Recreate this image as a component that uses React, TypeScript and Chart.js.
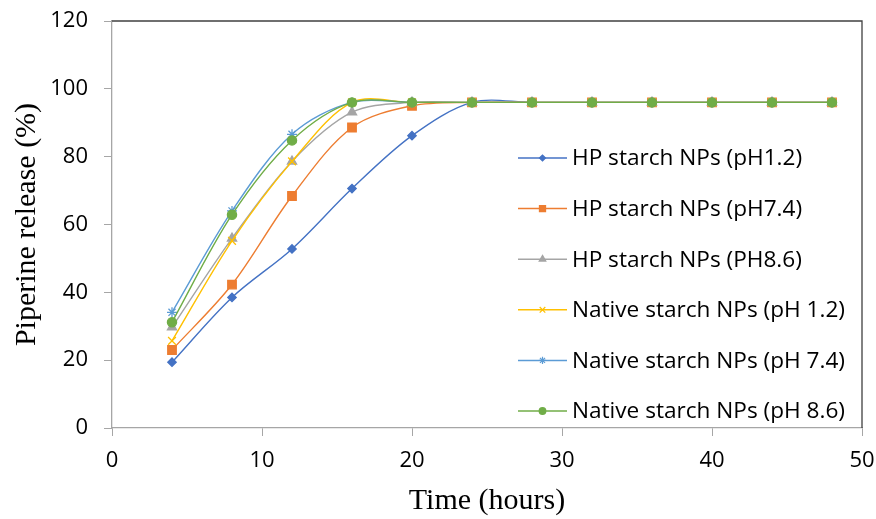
import React, { useEffect, useRef } from "react";
import { Chart, registerables } from "chart.js";
import { drawPoint } from "chart.js/helpers";

Chart.register(...registerables);

const hours = [4, 8, 12, 16, 20, 24, 28, 32, 36, 40, 44, 48];
const hpPH12 = [19.4, 38.5, 52.8, 70.6, 86.2, 96, 96, 96, 96, 96, 96, 96];
const hpPH74 = [23.0, 42.3, 68.4, 88.6, 95.0, 96, 96, 96, 96, 96, 96, 96];
const hpPH86 = [29.7, 55.9, 78.6, 93.1, 96, 96, 96, 96, 96, 96, 96, 96];
const nativePH12 = [25.7, 55.2, 78.6, 96, 96, 96, 96, 96, 96, 96, 96, 96];
const nativePH74 = [34.1, 64.0, 86.6, 96, 96, 96, 96, 96, 96, 96, 96, 96];
const nativePH86 = [31.2, 62.9, 84.8, 96, 96, 96, 96, 96, 96, 96, 96, 96];

const seriesLabels = [
  "HP starch NPs (pH1.2)",
  "HP starch NPs (pH7.4)",
  "HP starch NPs (PH8.6)",
  "Native starch NPs (pH 1.2)",
  "Native starch NPs (pH 7.4)",
  "Native starch NPs (pH 8.6)",
];
const seriesValues = [hpPH12, hpPH74, hpPH86, nativePH12, nativePH74, nativePH86];
const seriesColors = ["#4472C4", "#ED7D31", "#A5A5A5", "#FFC000", "#5B9BD5", "#70AD47"];
const seriesMarkers = ["rectRot", "rect", "triangle", "crossRot", "star", "circle"];
const markerRadius = [4.2, 6.0, 5.3, 5.5, 5, 4.6];

const xTicks = [0, 10, 20, 30, 40, 50];
const yTicks = [0, 20, 40, 60, 80, 100, 120];

const FONT = "'Open Sans', 'Liberation Sans', sans-serif";
const SERIF = "'Liberation Serif', 'DejaVu Serif', serif";

const frameAndLegend = {
  id: "frameAndLegend",
  afterDraw(chart: any) {
    const { ctx, chartArea } = chart;
    const { left, right, top, bottom } = chartArea;
    ctx.save();
    ctx.strokeStyle = "#404040";
    ctx.lineWidth = 1.3;
    ctx.beginPath();
    ctx.moveTo(left, top);
    ctx.lineTo(right, top);
    ctx.lineTo(right, bottom);
    ctx.stroke();

    const lineStart = right - 344;
    const lineEnd = lineStart + 49;
    const textX = lineEnd + 5;
    const rowTop = top + 137;
    const rowGap = 50.6;
    ctx.font = `22.6px ${FONT}`;
    ctx.textBaseline = "middle";
    ctx.textAlign = "left";
    chart.data.datasets.forEach((ds: any, i: number) => {
      const y = rowTop + i * rowGap;
      ctx.strokeStyle = ds.borderColor;
      ctx.lineWidth = 1.5;
      ctx.beginPath();
      ctx.moveTo(lineStart, y);
      ctx.lineTo(lineEnd, y);
      ctx.stroke();
      ctx.fillStyle = ds.pointBackgroundColor;
      ctx.strokeStyle = ds.pointBorderColor;
      ctx.lineWidth = 1.2;
      drawPoint(ctx, { pointStyle: ds.pointStyle, radius: ds.pointRadius * 0.72, rotation: 0, borderWidth: 1.2 }, (lineStart + lineEnd) / 2, y);
      ctx.fillStyle = "#000";
      ctx.fillText(ds.label, textX, y + 1);
    });
    ctx.restore();
  },
};

export default function App() {
  const canvasRef = useRef<HTMLCanvasElement | null>(null);

  useEffect(() => {
    document.body.style.margin = "0";
    const canvas = canvasRef.current;
    if (!canvas) return;
    const datasets = seriesValues.map((vals, i) => ({
      label: seriesLabels[i],
      data: hours.map((h, j) => ({ x: h, y: vals[j] })),
      borderColor: seriesColors[i],
      backgroundColor: seriesColors[i],
      pointBackgroundColor: seriesColors[i],
      pointBorderColor: seriesColors[i],
      pointStyle: seriesMarkers[i],
      pointRadius: markerRadius[i],
      pointBorderWidth: 1.3,
      borderWidth: 1.4,
      tension: 0.33,
      order: seriesValues.length - i,
    }));

    const chart = new Chart(canvas, {
      type: "line",
      data: { datasets },
      plugins: [frameAndLegend],
      options: {
        responsive: false,
        animation: false,
        devicePixelRatio: 1,
        layout: { padding: { top: 21, right: 14, left: 0, bottom: 0 } },
        plugins: {
          legend: { display: false },
          tooltip: { enabled: false },
        },
        scales: {
          x: {
            type: "linear",
            min: 0,
            max: 50,
            afterBuildTicks: (scale: any) => {
              scale.ticks = xTicks.map((v) => ({ value: v }));
            },
            afterFit: (scale: any) => {
              scale.height = 91;
              scale.paddingLeft = 0;
              scale.paddingRight = 0;
            },
            grid: {
              drawOnChartArea: false,
              drawTicks: true,
              tickLength: 8,
              tickColor: "#A6A6A6",
            },
            border: { color: "#A6A6A6", width: 1.3 },
            ticks: {
              padding: 12,
              color: "#000",
              font: { family: FONT, size: 22 },
              maxRotation: 0,
            },
            title: {
              display: true,
              text: "Time (hours)",
              color: "#000",
              font: { family: SERIF, size: 30 },
              padding: { top: 0, bottom: 0 },
            },
          },
          y: {
            type: "linear",
            min: 0,
            max: 120,
            afterBuildTicks: (scale: any) => {
              scale.ticks = yTicks.map((v) => ({ value: v }));
            },
            afterFit: (scale: any) => {
              scale.width = 112;
              scale.paddingTop = 0;
              scale.paddingBottom = 0;
            },
            grid: {
              drawOnChartArea: false,
              drawTicks: true,
              tickLength: 8,
              tickColor: "#A6A6A6",
            },
            border: { color: "#A6A6A6", width: 1.3 },
            ticks: {
              padding: 16,
              color: "#000",
              font: { family: FONT, size: 22 },
            },
            title: {
              display: true,
              text: "Piperine release (%)",
              color: "#000",
              font: { family: SERIF, size: 30 },
              padding: { top: 9, bottom: 0 },
            },
          },
        },
      },
    });
    return () => chart.destroy();
  }, []);

  return (
    <div style={{ width: 876, height: 519 }}>
      <canvas ref={canvasRef} width={876} height={519} />
    </div>
  );
}
